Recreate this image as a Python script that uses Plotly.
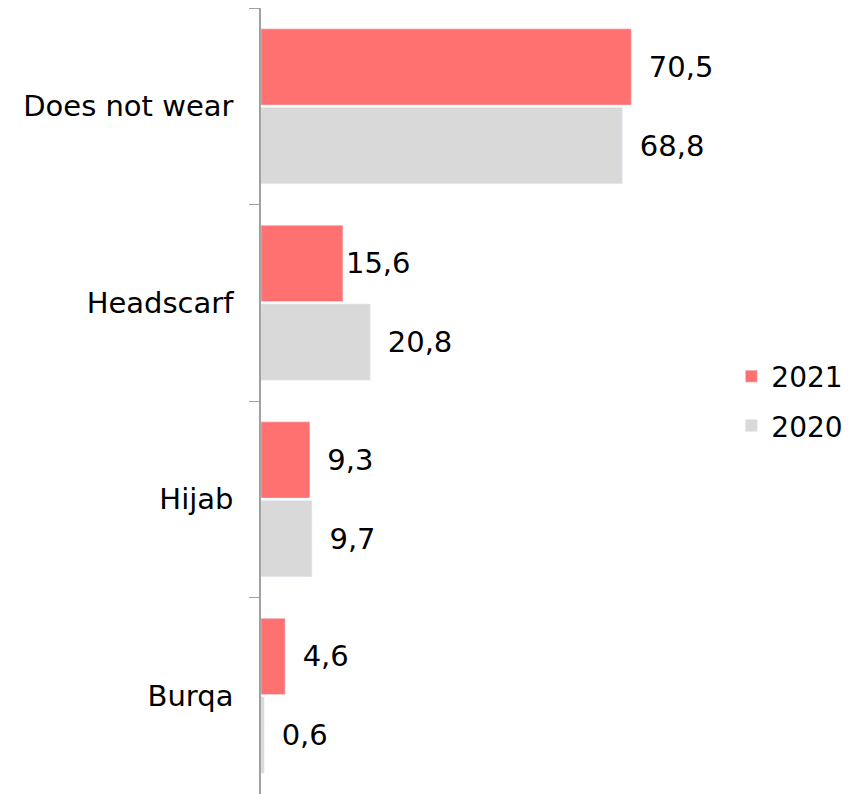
import plotly.graph_objects as go

categories = ['Does not wear', 'Headscarf', 'Hijab', 'Burqa']
values_2021 = [70.5, 15.6, 9.3, 4.6]
values_2020 = [68.8, 20.8, 9.7, 0.6]
labels_2021 = ['70,5', '15,6', '9,3', '4,6']
labels_2020 = ['68,8', '20,8', '9,7', '0,6']

pad = '\u2002'
fig = go.Figure()
fig.add_trace(go.Bar(
    y=categories,
    x=values_2021,
    orientation='h',
    name='2021',
    legendgroup='a',
    marker_color='#FF7171',
    text=[('' if l == '15,6' else pad) + l for l in labels_2021],
    textposition='outside',
    cliponaxis=False,
    textfont=dict(color='black', size=29),
))
fig.add_trace(go.Bar(
    y=categories,
    x=values_2020,
    orientation='h',
    name='2020',
    legendgroup='b',
    marker_color='#D9D9D9',
    text=[pad + l for l in labels_2020],
    textposition='outside',
    cliponaxis=False,
    textfont=dict(color='black', size=29),
))

# page body has an 8px margin, so the figure is sized to fit the window
fig.update_layout(
    width=848,
    height=786,
    barmode='group',
    bargap=0.2,
    bargroupgap=0.03,
    separators=', ',
    plot_bgcolor='white',
    paper_bgcolor='white',
    font=dict(family='Verdana, DejaVu Sans, sans-serif', size=29, color='black'),
    margin=dict(l=253, r=136, t=0, b=0, autoexpand=False),
    legend=dict(
        xref='container', x=0.853, xanchor='left',
        y=0.5, yanchor='middle',
        font=dict(size=28),
        itemwidth=30,
        traceorder='grouped',
        tracegroupgap=10,
    ),
    showlegend=True,
)
fig.update_xaxes(range=[0, 87.4], visible=False)
fig.update_yaxes(
    categoryorder='array', categoryarray=categories, autorange='reversed',
    showline=True, linecolor='#A0A0A0', linewidth=1.5,
    ticks='outside', tickson='boundaries', ticklen=10, tickcolor='#A0A0A0',
    showgrid=False, ticklabelstandoff=20, automargin=False,
)

fig.write_html('out.html')
